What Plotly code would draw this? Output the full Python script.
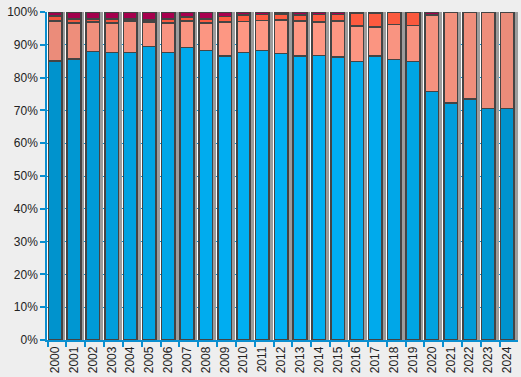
import math
import plotly.graph_objects as go

years = list(range(2000, 2025))
tick_labels = [str(y) for y in years]

# shares in % (bottom to top)
blue_share = [85.0, 85.6, 88.0, 87.7, 87.7, 89.5, 87.7, 89.2, 88.3, 86.5, 87.7, 88.3, 87.4,
              86.5, 86.8, 86.2, 84.9, 86.5, 85.5, 84.9, 75.8, 72.2, 73.4, 70.6, 70.6]
salmon_share = [12.2, 11.0, 8.9, 8.9, 9.5, 7.4, 8.9, 8.0, 8.4, 10.4, 9.4, 9.1, 10.2,
                10.8, 10.1, 11.0, 10.8, 9.0, 10.7, 11.0, 23.2, 27.8, 26.6, 29.4, 29.4]
orange_share = [1.6, 1.2, 0.9, 1.2, 0.6, 0.6, 1.2, 1.2, 1.1, 1.7, 1.9, 1.8, 1.8,
                1.8, 2.4, 2.1, 3.8, 4.2, 3.6, 4.1, 0, 0, 0, 0, 0]
magenta_share = [1.2, 2.2, 2.2, 2.2, 2.2, 2.5, 2.2, 1.6, 2.2, 1.4, 1.0, 0.8, 0.6,
                 0.9, 0.7, 0.7, 0.5, 0.3, 0.2, 0, 1.0, 0, 0, 0, 0]
y_ticks = list(range(0, 101, 10))

BLUE_AX = "#0A8FD0"
n = len(years)


def shade(rgb, i, depth):
    f = (1 - depth) + depth * math.sin(math.pi * (i + 0.5) / n)
    r, g, b = rgb
    return "rgb(%d,%d,%d)" % (min(255, r * f), min(255, g * f), min(255, b * f))


def clean(vals):
    return [v if v > 0 else None for v in vals]


fig = go.Figure()
BW = 0.72
# shadow
fig.add_trace(go.Bar(x=[y + 0.19 for y in years], y=[100] * n, width=BW,
                     marker=dict(color="#9C9C9C", line=dict(width=0)),
                     hoverinfo="skip", showlegend=False))

series = [
    (blue_share, (0, 176, 244), 0.17),
    (salmon_share, (255, 152, 132), 0.08),
    (orange_share, (255, 92, 64), 0.06),
    (magenta_share, (170, 0, 80), 0.06),
]
for vals, rgb, depth in series:
    fig.add_trace(go.Bar(x=years, y=clean(vals), width=BW,
                         marker=dict(color=[shade(rgb, i, depth) for i in range(n)],
                                     line=dict(color="#444444", width=1.6)),
                         showlegend=False))

fig.update_layout(
    width=521, height=377,
    margin=dict(l=47, r=3, t=12, b=37),
    barmode="stack",
    paper_bgcolor="#EEEEEE",
    plot_bgcolor="#FFFFFF",
    font=dict(family="Liberation Sans, Arial", size=12, color="#222222"),
)
fig.update_xaxes(
    range=[1999.57, 2024.57],
    tickmode="array", tickvals=years, ticktext=tick_labels, tickangle=-90,
    ticks="", showgrid=False, zeroline=False, automargin=False,
    showline=True, linecolor=BLUE_AX, linewidth=1.5,
    minor=dict(tickmode="linear", tick0=1999.6, dtick=1, ticks="outside",
               ticklen=5, tickcolor=BLUE_AX, tickwidth=1.5, showgrid=False),
    tickfont=dict(size=12),
)
fig.update_yaxes(
    range=[0, 100], tickmode="array", tickvals=y_ticks,
    ticktext=["%d%%" % v for v in y_ticks],
    ticks="outside", ticklen=5, tickcolor=BLUE_AX, tickwidth=1.5,
    showgrid=True, gridcolor=BLUE_AX, gridwidth=1, griddash="dash",
    zeroline=False, showline=True, linecolor=BLUE_AX, linewidth=1.5,
    automargin=False,
    tickfont=dict(size=12),
)

fig.write_html(
    "out.html",
    config={"displayModeBar": False},
    post_script="document.body.style.margin='0';document.body.style.padding='0';"
                "document.body.style.background='#EEEEEE';",
)
